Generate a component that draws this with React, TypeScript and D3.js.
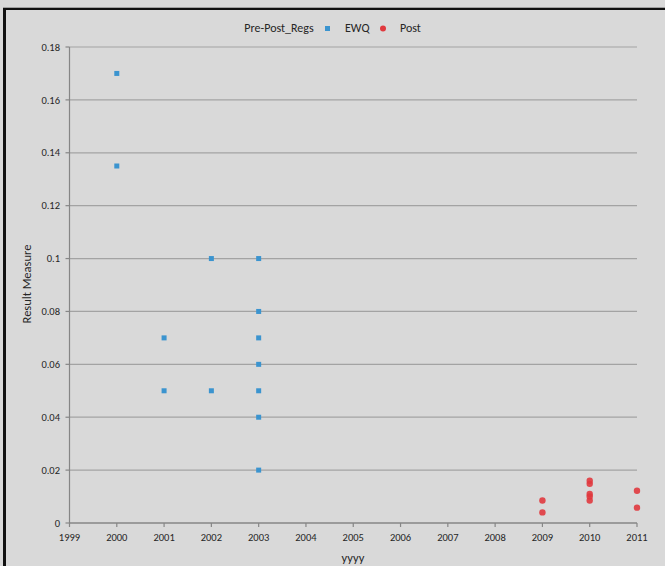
import React from "react";
import * as d3 from "d3";

const ewqYears = [2000, 2000, 2001, 2001, 2002, 2002, 2003, 2003, 2003, 2003, 2003, 2003, 2003];
const ewqValues = [0.17, 0.135, 0.07, 0.05, 0.1, 0.05, 0.1, 0.08, 0.07, 0.06, 0.05, 0.04, 0.02];
const postYears = [2009, 2009, 2010, 2010, 2010, 2010, 2010, 2011, 2011];
const postValues = [0.0085, 0.0040, 0.0160, 0.0148, 0.0110, 0.0100, 0.0085, 0.0122, 0.0058];
const xTicks = [1999, 2000, 2001, 2002, 2003, 2004, 2005, 2006, 2007, 2008, 2009, 2010, 2011];
const yTicks = [0, 0.02, 0.04, 0.06, 0.08, 0.1, 0.12, 0.14, 0.16, 0.18];

const W = 665, H = 566;
const font = "Carlito, Calibri, 'Liberation Sans', Arial, sans-serif";

export default function App() {
  const x = d3.scaleLinear().domain([1999, 2011]).range([69.5, 637]);
  const y = d3.scaleLinear().domain([0, 0.18]).range([523, 47]);
  const blue = "#3b94cf";
  const red = "#e0393e";
  const txt = "#262626";
  return (
    <svg width={W} height={H} style={{ position: "absolute", left: 0, top: 0 }}>
      <rect x={0} y={0} width={W} height={H} fill="#d9d9d9" />
      <line x1={3} y1={7.5} x2={W} y2={7.5} fill="none" stroke="#a0a0a0" strokeWidth={1} />
      <line x1={4.5} y1={9} x2={W} y2={9} stroke="#111" strokeWidth={2.2} />
      <line x1={4.5} y1={8} x2={4.5} y2={H} stroke="#111" strokeWidth={3} />
      {/* gridlines */}
      {yTicks.filter((t) => t > 0).map((t) => (
        <line key={t} x1={x(1999)} x2={x(2011)} y1={y(t)} y2={y(t)} stroke="#a3a3a3" strokeWidth={1.2} />
      ))}
      {/* y axis */}
      <line x1={x(1999)} x2={x(1999)} y1={y(0.18)} y2={y(0)} stroke="#868686" strokeWidth={1.2} />
      {yTicks.map((t) => (
        <g key={t}>
          <line x1={x(1999) - 4} x2={x(1999)} y1={y(t)} y2={y(t)} stroke="#868686" strokeWidth={1.2} />
          <text x={60} y={y(t)} dy="0.35em" textAnchor="end" fontSize={10.5} fontFamily={font} fill={txt}>
            {String(t)}
          </text>
        </g>
      ))}
      {/* x axis */}
      <line x1={x(1999)} x2={x(2011)} y1={y(0)} y2={y(0)} stroke="#868686" strokeWidth={1.5} />
      {xTicks.map((t) => (
        <g key={t}>
          <line x1={x(t)} x2={x(t)} y1={y(0)} y2={y(0) + 4} stroke="#868686" strokeWidth={1.2} />
          <text x={x(t)} y={537} dy="0.35em" textAnchor="middle" fontSize={10.5} fontFamily={font} fill={txt}>
            {t}
          </text>
        </g>
      ))}
      <text x={353} y={558} dy="0.35em" textAnchor="middle" fontSize={12.5} fontFamily={font} fill={txt}>yyyy</text>
      <text transform={`translate(27,284) rotate(-90)`} textAnchor="middle" dy="0.35em" fontSize={12.5} fontFamily={font} fill={txt}>
        Result Measure
      </text>
      {/* legend */}
      <text x={279} y={28} dy="0.35em" textAnchor="middle" fontSize={12} fontFamily={font} fill={txt}>Pre-Post_Regs</text>
      <rect x={325} y={26} width={5} height={5} fill={blue} />
      <text x={345} y={28} dy="0.35em" fontSize={12} fontFamily={font} fill={txt}>EWQ</text>
      <circle cx={383} cy={28.5} r={3} fill={red} />
      <text x={400} y={28} dy="0.35em" fontSize={12} fontFamily={font} fill={txt}>Post</text>
      {/* points */}
      {ewqValues.map((v, i) => (
        <rect key={"e" + i} x={x(ewqYears[i]) - 2.5} y={y(v) - 2.5} width={5} height={5} fill={blue} />
      ))}
      {postValues.map((v, i) => (
        <circle key={"p" + i} cx={x(postYears[i])} cy={y(v)} r={3.2} fill={red} opacity={0.9} />
      ))}
    </svg>
  );
}
